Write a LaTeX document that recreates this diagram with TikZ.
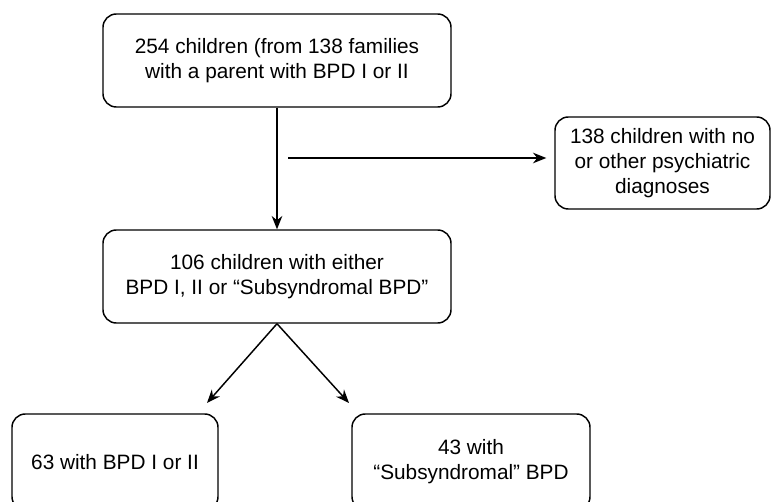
\documentclass[tikz,border=0pt]{standalone}
\usepackage{fontspec}
\setmainfont{Liberation Sans}
\usetikzlibrary{
    arrows.meta,
    calc
}
\tikzset{
  flowbox/.style={
    draw,
    rounded corners=10pt,
    align=center,
    inner sep=0pt,
    font=\fontsize{15.6}{18.75}\selectfont
  }
}

\begin{document}
\begin{tikzpicture}[x=0.75pt,y=-0.75pt,line width=1.1pt,>={Stealth[length=10pt,width=8pt]}]
    \useasboundingbox (0,0) rectangle (771,502);
    \clip (0,0) rectangle (771,502);

    % boxes
    \node[flowbox,minimum width=348*0.75pt,minimum height=93*0.75pt] (families) at (277,60.5)
        {254 children (from 138 families\\with a parent with BPD I or II};
    \node[flowbox,minimum width=215*0.75pt,minimum height=92*0.75pt] (excluded) at (662.5,163)
        {138 children with no\\or other psychiatric\\diagnoses};
    \node[flowbox,minimum width=348*0.75pt,minimum height=93*0.75pt] (eligible) at (277,276.5)
        {106 children with either\\BPD I, II or “Subsyndromal BPD”};
    \node[flowbox,minimum width=206*0.75pt,minimum height=96*0.75pt] (bpd) at (115,462)
        {63 with BPD I or II};
    \node[flowbox,minimum width=238*0.75pt,minimum height=96*0.75pt] (subsyn) at (471,462)
        {43 with\\“Subsyndromal” BPD};

    % free ends
    \coordinate (branch) at (288,158);
    \coordinate (tipL) at (207,403);
    \coordinate (tipR) at (349,403);

    % arrows
    \draw[->] (families.south) -- (eligible.north);
    \draw[->] (branch) -- ($(branch -| excluded.west)+(-8,0)$);
    \draw[->] (eligible.south) -- (tipL);
    \draw[->] (eligible.south) -- (tipR);
\end{tikzpicture}
\end{document}
